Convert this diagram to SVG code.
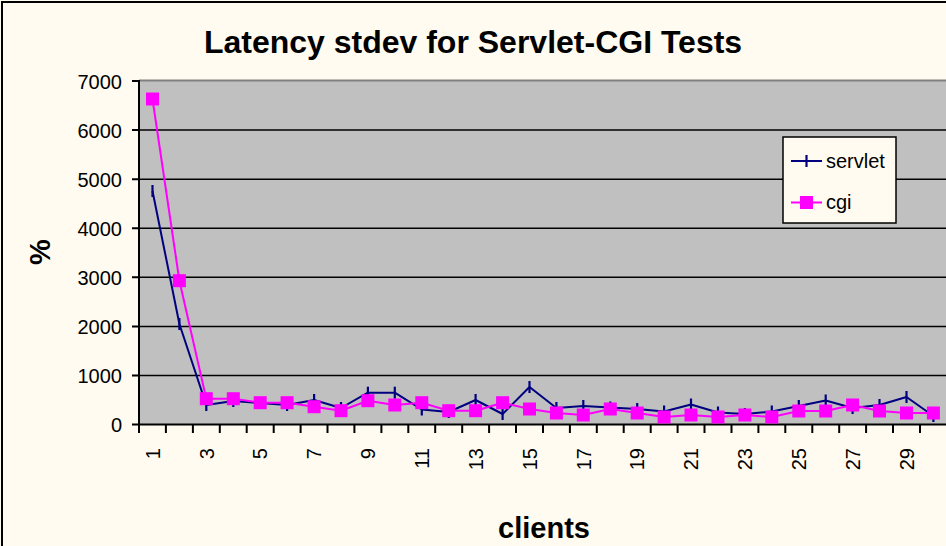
<svg xmlns="http://www.w3.org/2000/svg" xmlns:xlink="http://www.w3.org/1999/xlink" width="946" height="546" viewBox="0 0 946 546">
<style>
.t{font-family:"Liberation Sans",Arial,sans-serif;fill:#000}
.title{font-size:32px;font-weight:bold}
.axt{font-size:29px;font-weight:bold}
.tick{font-size:20px}
.grid{stroke:#000;stroke-width:1.5}
.ax{stroke:#000;stroke-width:2;fill:none}
.srv{stroke:#000080;stroke-width:2;fill:none;stroke-linejoin:round}
.cgi{stroke:#FF00FF;stroke-width:2;fill:none;stroke-linejoin:round}
</style>
<defs>
<path id="mk" d="M0,-6V6" stroke="#000080" stroke-width="2.2"/>
<rect id="sq" x="-6.5" y="-6.5" width="13" height="13" fill="#FF00FF"/>
</defs>
<rect x="0" y="0" width="946" height="546" fill="#FFFBF0"/>
<rect x="2" y="2" width="960" height="560" fill="none" stroke="#000" stroke-width="2"/>
<g id="title"><text class="t title" x="473" y="53" text-anchor="middle">Latency stdev for Servlet-CGI Tests</text></g>
<g id="plot">
<rect x="139" y="81" width="810" height="343.5" fill="#C0C0C0"/>
<line x1="139" y1="80.5" x2="946" y2="80.5" stroke="#808080" stroke-width="2"/>
<g class="grid">
<line x1="139" y1="375.4" x2="946" y2="375.4"/>
<line x1="139" y1="326.4" x2="946" y2="326.4"/>
<line x1="139" y1="277.3" x2="946" y2="277.3"/>
<line x1="139" y1="228.2" x2="946" y2="228.2"/>
<line x1="139" y1="179.2" x2="946" y2="179.2"/>
<line x1="139" y1="130.1" x2="946" y2="130.1"/>
</g>
</g>
<g id="y-axis">
<path class="ax" d="M139,80V425M132,81H139M132,130.1H139M132,179.2H139M132,228.2H139M132,277.3H139M132,326.4H139M132,375.4H139M132,424.5H139"/>
<g class="t tick" text-anchor="end">
<text x="122" y="89">7000</text>
<text x="122" y="138">6000</text>
<text x="122" y="187">5000</text>
<text x="122" y="236">4000</text>
<text x="122" y="285">3000</text>
<text x="122" y="334">2000</text>
<text x="122" y="383">1000</text>
<text x="122" y="432">0</text>
</g>
<text class="t axt" transform="translate(50,252) rotate(-90)" text-anchor="middle">%</text>
</g>
<g id="x-axis">
<path class="ax" d="M138,424.5H946M139,424.5V433M165.9,424.5V433M192.9,424.5V433M219.8,424.5V433M246.7,424.5V433M273.7,424.5V433M300.6,424.5V433M327.5,424.5V433M354.4,424.5V433M381.4,424.5V433M408.3,424.5V433M435.2,424.5V433M462.2,424.5V433M489.1,424.5V433M516,424.5V433M543,424.5V433M569.9,424.5V433M596.8,424.5V433M623.7,424.5V433M650.7,424.5V433M677.6,424.5V433M704.5,424.5V433M731.5,424.5V433M758.4,424.5V433M785.3,424.5V433M812.3,424.5V433M839.2,424.5V433M866.1,424.5V433M893,424.5V433M920,424.5V433"/>
<g class="t tick" text-anchor="end">
<text transform="translate(159.7,448) rotate(-90)">1</text>
<text transform="translate(213.5,448) rotate(-90)">3</text>
<text transform="translate(267.4,448) rotate(-90)">5</text>
<text transform="translate(321.3,448) rotate(-90)">7</text>
<text transform="translate(375.1,448) rotate(-90)">9</text>
<text transform="translate(429,448) rotate(-90)">11</text>
<text transform="translate(482.8,448) rotate(-90)">13</text>
<text transform="translate(536.7,448) rotate(-90)">15</text>
<text transform="translate(590.5,448) rotate(-90)">17</text>
<text transform="translate(644.4,448) rotate(-90)">19</text>
<text transform="translate(698.2,448) rotate(-90)">21</text>
<text transform="translate(752.1,448) rotate(-90)">23</text>
<text transform="translate(806,448) rotate(-90)">25</text>
<text transform="translate(859.8,448) rotate(-90)">27</text>
<text transform="translate(913.7,448) rotate(-90)">29</text>
</g>
<text class="t axt" x="544" y="538" text-anchor="middle">clients</text>
</g>
<g id="connectors">
<polyline id="servlet-line" class="srv" points="152.5,191 179.4,324 206.3,405 233.3,401 260.2,403 287.1,405 314.1,400 341,408 367.9,392.7 394.8,392.7 421.8,409.5 448.7,412 475.6,400 502.6,414 529.5,387 556.4,408 583.3,406 610.3,407.5 637.2,409 664.1,411.5 691,404.5 718,412.5 744.9,414 771.8,411.5 798.8,406 825.7,400.5 852.6,408 879.5,405 906.5,397 933.4,416"/>
<polyline id="cgi-line" class="cgi" points="152.5,99 179.4,280.7 206.3,398.7 233.3,398.7 260.2,402.7 287.1,402.7 314.1,406.7 341,410.7 367.9,400.7 394.8,405 421.8,402.7 448.7,410.7 475.6,410.7 502.6,402.7 529.5,409 556.4,413 583.3,415 610.3,409 637.2,413 664.1,417 691,415 718,417 744.9,415 771.8,417 798.8,411 825.7,411 852.6,405 879.5,411 906.5,413 933.4,413"/>
</g>
<g id="servlet-markers">
<use xlink:href="#mk" x="152.5" y="191"/><use xlink:href="#mk" x="179.4" y="324"/><use xlink:href="#mk" x="206.3" y="405"/><use xlink:href="#mk" x="233.3" y="401"/><use xlink:href="#mk" x="260.2" y="403"/><use xlink:href="#mk" x="287.1" y="405"/><use xlink:href="#mk" x="314.1" y="400"/><use xlink:href="#mk" x="341" y="408"/><use xlink:href="#mk" x="367.9" y="392.7"/><use xlink:href="#mk" x="394.8" y="392.7"/><use xlink:href="#mk" x="421.8" y="409.5"/><use xlink:href="#mk" x="448.7" y="412"/><use xlink:href="#mk" x="475.6" y="400"/><use xlink:href="#mk" x="502.6" y="414"/><use xlink:href="#mk" x="529.5" y="387"/><use xlink:href="#mk" x="556.4" y="408"/><use xlink:href="#mk" x="583.3" y="406"/><use xlink:href="#mk" x="610.3" y="407.5"/><use xlink:href="#mk" x="637.2" y="409"/><use xlink:href="#mk" x="664.1" y="411.5"/><use xlink:href="#mk" x="691" y="404.5"/><use xlink:href="#mk" x="718" y="412.5"/><use xlink:href="#mk" x="744.9" y="414"/><use xlink:href="#mk" x="771.8" y="411.5"/><use xlink:href="#mk" x="798.8" y="406"/><use xlink:href="#mk" x="825.7" y="400.5"/><use xlink:href="#mk" x="852.6" y="408"/><use xlink:href="#mk" x="879.5" y="405"/><use xlink:href="#mk" x="906.5" y="397"/><use xlink:href="#mk" x="933.4" y="416"/>
</g>
<g id="cgi-markers">
<use xlink:href="#sq" x="152.5" y="99"/><use xlink:href="#sq" x="179.4" y="280.7"/><use xlink:href="#sq" x="206.3" y="398.7"/><use xlink:href="#sq" x="233.3" y="398.7"/><use xlink:href="#sq" x="260.2" y="402.7"/><use xlink:href="#sq" x="287.1" y="402.7"/><use xlink:href="#sq" x="314.1" y="406.7"/><use xlink:href="#sq" x="341" y="410.7"/><use xlink:href="#sq" x="367.9" y="400.7"/><use xlink:href="#sq" x="394.8" y="405"/><use xlink:href="#sq" x="421.8" y="402.7"/><use xlink:href="#sq" x="448.7" y="410.7"/><use xlink:href="#sq" x="475.6" y="410.7"/><use xlink:href="#sq" x="502.6" y="402.7"/><use xlink:href="#sq" x="529.5" y="409"/><use xlink:href="#sq" x="556.4" y="413"/><use xlink:href="#sq" x="583.3" y="415"/><use xlink:href="#sq" x="610.3" y="409"/><use xlink:href="#sq" x="637.2" y="413"/><use xlink:href="#sq" x="664.1" y="417"/><use xlink:href="#sq" x="691" y="415"/><use xlink:href="#sq" x="718" y="417"/><use xlink:href="#sq" x="744.9" y="415"/><use xlink:href="#sq" x="771.8" y="417"/><use xlink:href="#sq" x="798.8" y="411"/><use xlink:href="#sq" x="825.7" y="411"/><use xlink:href="#sq" x="852.6" y="405"/><use xlink:href="#sq" x="879.5" y="411"/><use xlink:href="#sq" x="906.5" y="413"/><use xlink:href="#sq" x="933.4" y="413"/>
</g>
<g id="legend">
<rect x="783" y="137" width="113" height="86" fill="#FFFBF0" stroke="#000" stroke-width="1.5"/>
<line x1="791" y1="161" x2="822" y2="161" stroke="#000080" stroke-width="2"/>
<use xlink:href="#mk" x="806.5" y="161"/>
<text class="t tick" x="826" y="168">servlet</text>
<line x1="791" y1="202.5" x2="822" y2="202.5" stroke="#FF00FF" stroke-width="2"/>
<use xlink:href="#sq" x="806.5" y="202.5"/>
<text class="t tick" x="826" y="209">cgi</text>
</g>
</svg>
